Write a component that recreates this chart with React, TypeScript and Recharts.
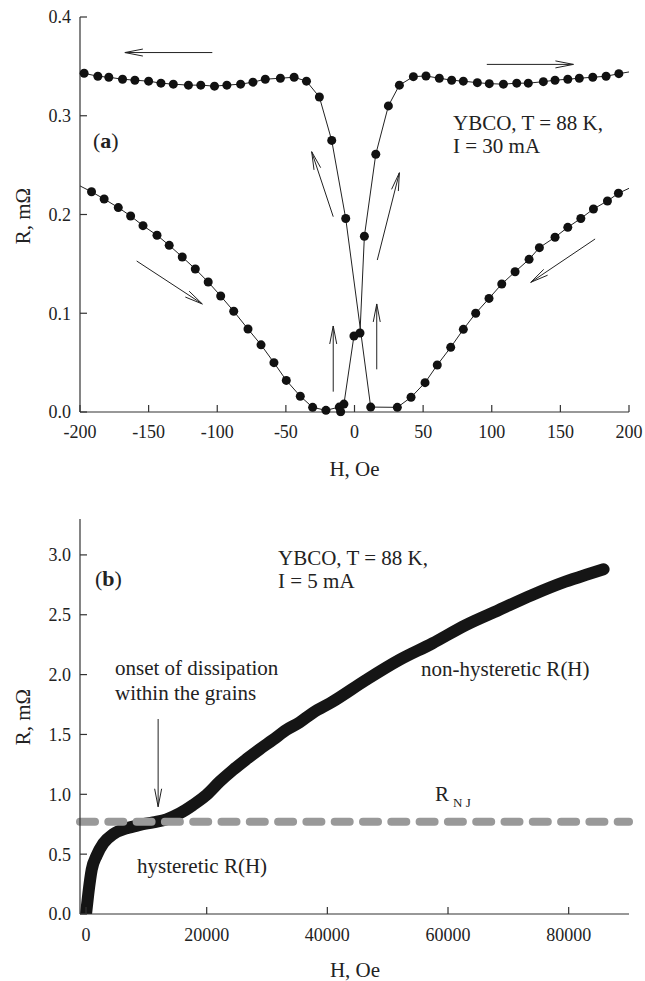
import React from "react";
import {
  LineChart,
  Line,
  XAxis,
  YAxis,
  ReferenceLine,
  Customized,
} from "recharts";

const FONT = '"Liberation Serif", "Times New Roman", serif';
const INK = "#222";
const AXIS = "#333";

// ── panel (a): two field sweeps, H in Oe, R in mΩ ──
const upH = [-210, -191.6, -182.4, -172.1, -163.1, -154.1, -143.9, -135, -125.5, -116, -106.6, -97.5, -88, -77.6, -68.1, -58.7, -49.7, -39.5, -30.5, -20.8, -11.1, -10.1, -7.7, -0.4, 4, 7.2, 15.5, 24.7, 32.7, 42.9, 52.1, 61.8, 70.8, 79.3, 89.5, 98.2, 108.5, 118.2, 126.6, 137.6, 146.1, 155.4, 163.8, 173.6, 183.3, 192.6, 207];
const upR = [0.236, 0.223, 0.2157, 0.207, 0.1985, 0.1887, 0.179, 0.1688, 0.157, 0.1448, 0.1316, 0.1175, 0.102, 0.084, 0.068, 0.05, 0.032, 0.016, 0.0047, 0.0017, 0.005, 0.0003, 0.008, 0.077, 0.08, 0.178, 0.261, 0.31, 0.331, 0.3396, 0.3403, 0.338, 0.336, 0.335, 0.3335, 0.3325, 0.332, 0.333, 0.333, 0.3345, 0.336, 0.337, 0.338, 0.339, 0.34, 0.3426, 0.346];

const downH = [210, 192.3, 184.3, 174.1, 164.9, 155.4, 146.1, 134.7, 127.2, 117, 107.3, 98, 88.3, 79.3, 70.1, 60.3, 51.4, 41.2, 31.2, 11.8, -6.4, -16.6, -25.6, -35, -44, -54, -65, -74, -83, -93, -102, -112, -121, -132, -141, -150, -160, -169, -179, -187, -197, -207];
const downR = [0.233, 0.2215, 0.2137, 0.2056, 0.196, 0.187, 0.177, 0.1664, 0.1546, 0.142, 0.1296, 0.115, 0.1, 0.0837, 0.0655, 0.0476, 0.0297, 0.0149, 0.0047, 0.005, 0.196, 0.275, 0.319, 0.335, 0.339, 0.338, 0.337, 0.334, 0.332, 0.331, 0.33, 0.331, 0.331, 0.332, 0.333, 0.335, 0.336, 0.337, 0.339, 0.34, 0.343, 0.346];

const ticksHa = [-200, -150, -100, -50, 0, 50, 100, 150, 200];
const ticksRa = [0, 0.1, 0.2, 0.3, 0.4];

// arrows: [from, to] in data units, head at "to"
const arrowsA = [
  [[-103.6, 0.364], [-167.3, 0.364]],
  [[96.4, 0.352], [159.5, 0.352]],
  [[-158.7, 0.1529], [-110.9, 0.1094]],
  [[175.3, 0.1752], [128.4, 0.1313]],
  [[-15.5, 0.1978], [-31.2, 0.2636]],
  [[16.6, 0.1539], [32.7, 0.2423]],
  [[-15.5, 0.0206], [-15.5, 0.0871]],
  [[16.2, 0.0432], [16.2, 0.1094]],
];

// ── panel (b): R(H) up to high field ──
const highH = [0, 380, 940, 1770, 2860, 4510, 6720, 8930, 11130, 13330, 15540, 17740, 19950, 22150, 24350, 26560, 28760, 30960, 33170, 35370, 37570, 40880, 46400, 51900, 57410, 62930, 68440, 73950, 79460, 82770, 85790];
const highR = [0, 0.17, 0.37, 0.49, 0.59, 0.668, 0.716, 0.744, 0.766, 0.791, 0.841, 0.911, 0.994, 1.105, 1.203, 1.292, 1.376, 1.454, 1.537, 1.6, 1.68, 1.774, 1.955, 2.122, 2.261, 2.414, 2.54, 2.665, 2.776, 2.832, 2.88];
const rNJ = 0.771;
const ticksHb = [0, 20000, 40000, 60000, 80000];
const ticksRb = [0, 0.5, 1, 1.5, 2, 2.5, 3];
const arrowB = [[11950, 1.629], [11950, 0.896]];

const sweepUp = upH.map((h, i) => ({ h, r: upR[i] }));
const sweepDown = downH.map((h, i) => ({ h, r: downR[i] }));
const highField = highH.map((h, i) => ({ h, r: highR[i] }));

const tickStyle = { fill: INK, fontSize: 18, fontFamily: FONT };
const axisLine = { stroke: AXIS, strokeWidth: 1.2 };

function ArrowShape(props: any) {
  const { x1, y1, x2, y2 } = props;
  const dx = x2 - x1;
  const dy = y2 - y1;
  const len = Math.hypot(dx, dy) || 1;
  const ux = dx / len;
  const uy = dy / len;
  const bx = x2 - ux * 18;
  const by = y2 - uy * 18;
  const px = -uy * 3.5;
  const py = ux * 3.5;
  return (
    <g>
      <line x1={x1} y1={y1} x2={x2} y2={y2} stroke={INK} strokeWidth={1} />
      <polyline
        points={`${bx + px},${by + py} ${x2},${y2} ${bx - px},${by - py}`}
        fill="none"
        stroke={INK}
        strokeWidth={1}
      />
    </g>
  );
}

const txt = { fontFamily: FONT, fill: INK };

function TextsA() {
  return (
    <g>
      <text x={93} y={148} fontSize={22} {...txt}>
        (<tspan fontWeight="bold">a</tspan>)
      </text>
      <text x={453} y={130} fontSize={21} {...txt}>YBCO, T = 88 K,</text>
      <text x={453} y={153} fontSize={21} {...txt}>I = 30 mA</text>
      <text x={354.5} y={476} fontSize={21} textAnchor="middle" {...txt}>H, Oe</text>
      <text x={0} y={0} fontSize={21} textAnchor="middle" transform="translate(30,216) rotate(-90)" {...txt}>
        R, mΩ
      </text>
    </g>
  );
}

function TextsB() {
  return (
    <g>
      <text x={95} y={106} fontSize={22} {...txt}>
        (<tspan fontWeight="bold">b</tspan>)
      </text>
      <text x={278} y={85} fontSize={21} {...txt}>YBCO, T = 88 K,</text>
      <text x={278} y={108} fontSize={21} {...txt}>I = 5 mA</text>
      <text x={115} y={195} fontSize={21} {...txt}>onset of dissipation</text>
      <text x={115} y={220} fontSize={21} {...txt}>within the grains</text>
      <text x={137} y={393} fontSize={21} {...txt}>hysteretic R(H)</text>
      <text x={421} y={196} fontSize={21} {...txt}>non-hysteretic R(H)</text>
      <text x={435} y={320.5} fontSize={21} {...txt}>R</text>
      <text x={453} y={326.5} fontSize={13} {...txt}>N J</text>
      <text x={355} y={496.5} fontSize={21} textAnchor="middle" {...txt}>H, Oe</text>
      <text x={0} y={0} fontSize={21} textAnchor="middle" transform="translate(30,237) rotate(-90)" {...txt}>
        R, mΩ
      </text>
    </g>
  );
}

function PanelA() {
  return (
    <LineChart width={645} height={480} margin={{ top: 17, right: 16, bottom: 38, left: 20 }}>
      <XAxis
        type="number"
        dataKey="h"
        domain={[-200, 200]}
        ticks={ticksHa}
        allowDataOverflow
        height={30}
        tickSize={-7}
        tickMargin={20}
        tick={tickStyle}
        axisLine={axisLine}
        tickLine={axisLine}
      />
      <XAxis
        xAxisId="top"
        orientation="top"
        type="number"
        domain={[-200, 200]}
        ticks={ticksHa}
        allowDataOverflow
        height={0}
        tickSize={-7}
        tick={false}
        axisLine={axisLine}
        tickLine={axisLine}
      />
      <YAxis
        type="number"
        domain={[0, 0.4]}
        ticks={ticksRa}
        allowDataOverflow
        width={60}
        tickSize={-7}
        tickMargin={16}
        tick={tickStyle}
        tickFormatter={(v: number) => v.toFixed(1)}
        axisLine={axisLine}
        tickLine={axisLine}
      />
      <YAxis
        yAxisId="right"
        orientation="right"
        type="number"
        domain={[0, 0.4]}
        ticks={ticksRa}
        allowDataOverflow
        width={0}
        tickSize={-7}
        tick={false}
        axisLine={axisLine}
        tickLine={axisLine}
      />
      <Line
        data={sweepUp}
        dataKey="r"
        type="linear"
        stroke={INK}
        strokeWidth={1}
        dot={{ r: 4.5, fill: "#111", stroke: "#111", strokeWidth: 0, clipDot: false }}
        isAnimationActive={false}
      />
      <Line
        data={sweepDown}
        dataKey="r"
        type="linear"
        stroke={INK}
        strokeWidth={1}
        dot={{ r: 4.5, fill: "#111", stroke: "#111", strokeWidth: 0, clipDot: false }}
        isAnimationActive={false}
      />
      {arrowsA.map((a, i) => (
        <ReferenceLine
          key={`arrow-a-${i}`}
          segment={[
            { x: a[0][0], y: a[0][1] },
            { x: a[1][0], y: a[1][1] },
          ]}
          shape={(p: any) => <ArrowShape {...p} />}
        />
      ))}
      <Customized component={() => <TextsA />} />
    </LineChart>
  );
}

function PanelB() {
  return (
    <LineChart width={645} height={501} margin={{ top: 39, right: 16, bottom: 37, left: 20 }}>
      <XAxis
        type="number"
        dataKey="h"
        domain={[-1000, 90000]}
        ticks={ticksHb}
        allowDataOverflow
        height={30}
        tickSize={-7}
        tickMargin={21}
        tick={tickStyle}
        axisLine={axisLine}
        tickLine={axisLine}
      />
      <XAxis
        xAxisId="top"
        orientation="top"
        type="number"
        domain={[-1000, 90000]}
        ticks={ticksHb}
        allowDataOverflow
        height={0}
        tickSize={-7}
        tick={false}
        axisLine={axisLine}
        tickLine={axisLine}
      />
      <YAxis
        type="number"
        domain={[0, 3.3]}
        ticks={ticksRb}
        allowDataOverflow
        width={60}
        tickSize={-7}
        tickMargin={16}
        tick={tickStyle}
        tickFormatter={(v: number) => v.toFixed(1)}
        axisLine={axisLine}
        tickLine={axisLine}
      />
      <YAxis
        yAxisId="right"
        orientation="right"
        type="number"
        domain={[0, 3.3]}
        ticks={[]}
        width={0}
        tick={false}
        tickLine={false}
        axisLine={axisLine}
      />
      <Line
        data={highField}
        dataKey="r"
        type="monotone"
        stroke="#151515"
        strokeWidth={12}
        strokeLinecap="round"
        strokeLinejoin="round"
        dot={false}
        isAnimationActive={false}
      />
      <ReferenceLine
        y={rNJ}
        stroke="#999"
        strokeWidth={8}
        strokeDasharray="15 13.3"
        strokeLinecap="round"
      />
      <ReferenceLine
        segment={[
          { x: arrowB[0][0], y: arrowB[0][1] },
          { x: arrowB[1][0], y: arrowB[1][1] },
        ]}
        shape={(p: any) => <ArrowShape {...p} />}
      />
      <Customized component={() => <TextsB />} />
    </LineChart>
  );
}

export default function App() {
  return (
    <div style={{ position: "absolute", left: 0, top: 0, width: 645, height: 981, background: "#fff" }}>
      <div style={{ position: "absolute", left: 0, top: 0 }}>
        <PanelA />
      </div>
      <div style={{ position: "absolute", left: 0, top: 480 }}>
        <PanelB />
      </div>
    </div>
  );
}
